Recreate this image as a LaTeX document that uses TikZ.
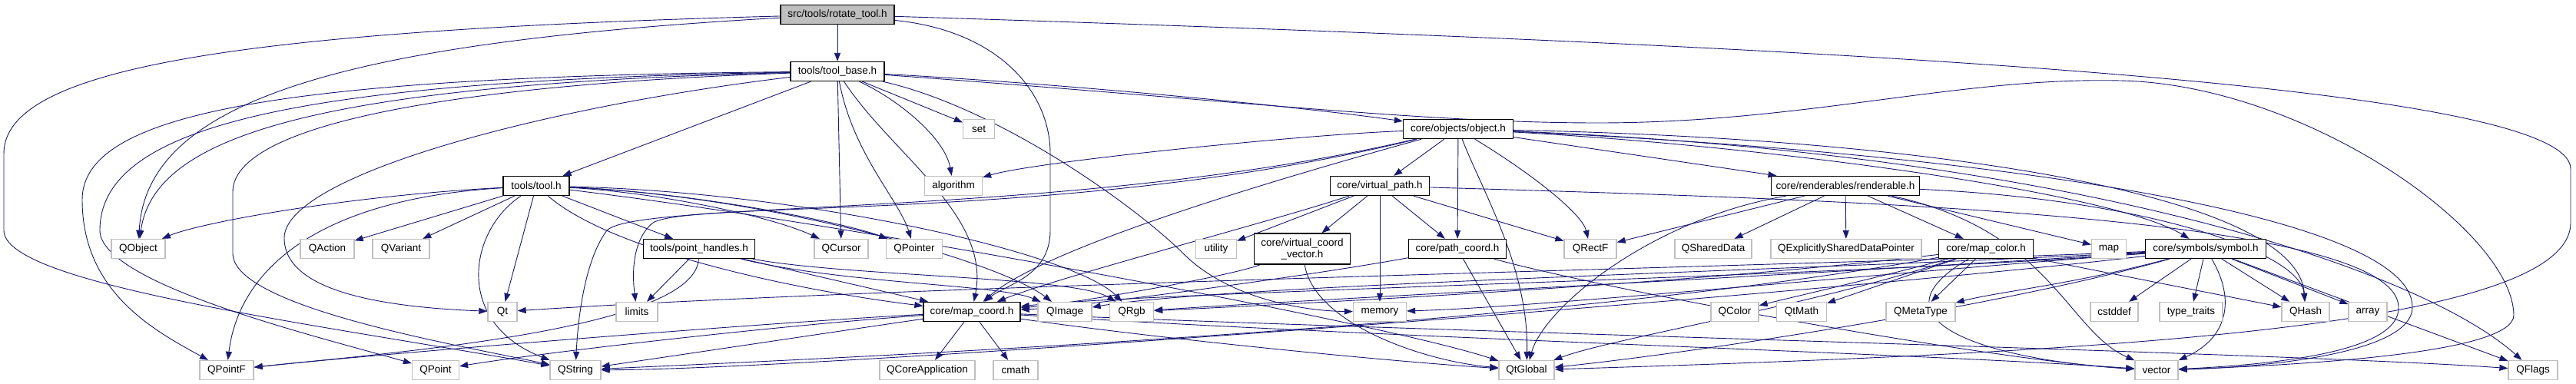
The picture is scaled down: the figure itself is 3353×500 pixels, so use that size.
\documentclass[tikz,border=0pt]{standalone}
\usepackage{fontspec}
\setmainfont{Liberation Sans}
\usepackage{xcolor}
\usepackage{tikz}
\usetikzlibrary{arrows.meta, backgrounds}

\definecolor{edgeblue}{RGB}{25,25,112}
\definecolor{sysgray}{RGB}{191,191,191}
\definecolor{rootgray}{RGB}{191,191,191}

\begin{document}
\begin{tikzpicture}[
    x=1pt, y=-1pt,
    file/.style={draw=black, fill=white, line width=1.3pt, minimum height=25pt, minimum width=#1, inner xsep=3pt, inner ysep=2pt, font=\fontsize{13.5}{15}\selectfont},
    file/.default=60,
    sys/.style={file=#1, draw=sysgray},
    sys/.default=40,
    root/.style={file=#1, fill=rootgray},
    dep/.style={-{Triangle[length=11pt,width=8pt]}, edgeblue, line width=0.9pt}
]
\useasboundingbox (0,0) rectangle (3353,500);

% Project headers
\node[root=148] (rot) at (1090,19) {src/tools/rotate\_tool.h};
\node[file=122] (toolbase) at (1090,93) {tools/tool\_base.h};
\node[file=143] (object) at (1898,168) {core/objects/object.h};
\node[file=86] (toolh) at (698,242) {tools/tool.h};
\node[file=129] (vpath) at (1796,242) {core/virtual\_path.h};
\node[file=193] (renderable) at (2402,242) {core/renderables/renderable.h};
\node[file=145] (phandles) at (910,324) {tools/point\_handles.h};
\node[file=125, align=center, minimum height=40pt] (vcv) at (1695,324) {core/virtual\_coord\\\_vector.h};
\node[file=127] (pathcoord) at (1897,324) {core/path\_coord.h};
\node[file=123] (mapcolor) at (2585,324) {core/map\_color.h};
\node[file=157] (symbol) at (2871,324) {core/symbols/symbol.h};
\node[file=126] (mapcoord) at (1265,406) {core/map\_coord.h};

% System headers
\node[sys=41] (set) at (1274,168) {set};
\node[sys=75] (algorithm) at (1241,242) {algorithm};
\node[sys=70] (QObject) at (180,324) {QObject};
\node[sys=70] (QAction) at (426,324) {QAction};
\node[sys=74] (QVariant) at (522,324) {QVariant};
\node[sys=70] (QCursor) at (1095,324) {QCursor};
\node[sys=73] (QPointer) at (1190,324) {QPointer};
\node[sys=53] (utility) at (1583,324) {utility};
\node[sys=68] (QRectF) at (2070,324) {QRectF};
\node[sys=100] (QSharedData) at (2230,324) {QSharedData};
\node[sys=196] (QESDP) at (2403,324) {QExplicitlySharedDataPointer};
\node[sys=45] (map) at (2745,324) {map};
\node[sys=38] (Qt) at (654,406) {Qt};
\node[sys=54] (limits) at (829,406) {limits};
\node[sys=70] (QImage) at (1386,406) {QImage};
\node[sys=57] (QRgb) at (1473,406) {QRgb};
\node[sys=69] (memory) at (1796,406) {memory};
\node[sys=62] (QColor) at (2258,406) {QColor};
\node[sys=65] (QtMath) at (2345,406) {QtMath};
\node[sys=90] (QMetaType) at (2500,406) {QMetaType};
\node[sys=62] (cstddef) at (2752,406) {cstddef};
\node[sys=82] (typetraits) at (2852,406) {type\_traits};
\node[sys=62] (QHash) at (3001,406) {QHash};
\node[sys=50] (array) at (3082,406) {array};
\node[sys=70] (QPointF) at (295,482) {QPointF};
\node[sys=61] (QPoint) at (567,482) {QPoint};
\node[sys=66] (QString) at (749,482) {QString};
\node[sys=124] (QCoreApp) at (1207,482) {QCoreApplication};
\node[sys=58] (cmath) at (1322,482) {cmath};
\node[sys=72] (QtGlobal) at (1987,482) {QtGlobal};
\node[sys=56] (vector) at (2807,482) {vector};
\node[sys=64] (QFlags) at (3297,482) {QFlags};

\begin{scope}[on background layer]
% rotate_tool.h
\draw[dep] (rot) -- (toolbase);
\draw[dep] (rot) .. controls (450,55) and (190,130) .. (QObject);
\draw[dep] (rot) .. controls (300,40) and (5,90) .. (5,200) -- (5,300) .. controls (5,370) and (400,420) .. (QString);
\draw[dep] (rot) .. controls (1300,40) and (1367,120) .. (1367,200) -- (1367,300) .. controls (1367,360) and (1310,370) .. (mapcoord);
\draw[dep] (rot) .. controls (2400,60) and (3346,110) .. (3346,220) -- (3346,290) .. controls (3346,430) and (2700,460) .. (QtGlobal);

% tool_base.h
\draw[dep] (toolbase) -- (toolh); \draw[dep] (toolbase) -- (QCursor); \draw[dep] (toolbase) -- (set);
\draw[dep] (toolbase) .. controls (400,110) and (200,180) .. (QObject);
\draw[dep] (toolbase) .. controls (350,100) and (107,150) .. (107,260) .. controls (107,380) and (200,430) .. (QPointF);
\draw[dep] (toolbase) .. controls (400,105) and (130,160) .. (130,300) .. controls (130,370) and (420,440) .. (QPoint);
\draw[dep] (toolbase) .. controls (600,110) and (303,160) .. (303,250) -- (303,330) .. controls (303,400) and (600,450) .. (QString);
\draw[dep] (toolbase) .. controls (700,140) and (370,230) .. (370,310) .. controls (370,380) and (500,400) .. (Qt);
\draw[dep] (toolbase) .. controls (1110,200) and (1170,260) .. (QPointer);
\draw[dep] (toolbase) .. controls (1160,200) and (1290,280) .. (mapcoord);
\draw[dep] (toolbase) .. controls (1170,130) and (1230,180) .. (algorithm);
\draw[dep] (toolbase) .. controls (1300,140) and (1480,270) .. (1540,330) .. controls (1600,390) and (1700,405) .. (memory);
\draw[dep] (toolbase) .. controls (1400,110) and (1700,140) .. (object);
\draw[dep] (toolbase) .. controls (1600,130) and (1850,160) .. (2080,160) .. controls (2350,160) and (2550,100) .. (2760,105) .. controls (3000,110) and (3270,300) .. (3272,410) .. controls (3273,460) and (3000,475) .. (vector);

% tool.h
\draw[dep] (toolh) -- (QAction); \draw[dep] (toolh) -- (QVariant); \draw[dep] (toolh) -- (Qt); \draw[dep] (toolh) -- (phandles);
\draw[dep] (toolh) .. controls (450,255) and (260,290) .. (QObject);
\draw[dep] (toolh) .. controls (400,260) and (310,360) .. (QPointF);
\draw[dep] (toolh) .. controls (610,300) and (590,420) .. (QString);
\draw[dep] (toolh) .. controls (850,250) and (1000,280) .. (QCursor);
\draw[dep] (toolh) .. controls (900,250) and (1100,290) .. (QPointer);
\draw[dep] (toolh) .. controls (800,330) and (1050,380) .. (mapcoord);
\draw[dep] (toolh) .. controls (1000,255) and (1300,340) .. (QImage);
\draw[dep] (toolh) .. controls (1050,250) and (1400,330) .. (QRgb);
\draw[dep] (toolh) .. controls (1100,290) and (1800,420) .. (QtGlobal);

% point_handles.h
\draw[dep] (phandles) -- (limits); \draw[dep] (phandles) -- (mapcoord);
\draw[dep] (phandles) .. controls (905,430) and (500,460) .. (QPointF);
\draw[dep] (phandles) .. controls (1100,370) and (1300,370) .. (QImage);
\draw[dep] (phandles) .. controls (1100,360) and (1400,360) .. (QRgb);

% object.h
\draw[dep] (object) -- (vpath); \draw[dep] (object) -- (pathcoord); \draw[dep] (object) -- (renderable);
\draw[dep] (object) .. controls (2000,230) and (2060,280) .. (QRectF);
\draw[dep] (object) .. controls (1930,250) and (1990,350) .. (QtGlobal);
\draw[dep] (object) .. controls (1700,175) and (1350,210) .. (algorithm);
\draw[dep] (object) .. controls (1400,290) and (900,260) .. (850,290) .. controls (825,310) and (822,350) .. (limits);
\draw[dep] (object) .. controls (1400,285) and (830,260) .. (790,300) .. controls (760,340) and (752,420) .. (QString);
\draw[dep] (object) .. controls (1600,250) and (1350,330) .. (mapcoord);
\draw[dep] (object) .. controls (2300,190) and (2750,250) .. (symbol);
\draw[dep] (object) .. controls (2500,180) and (2990,250) .. (QHash);
\draw[dep] (object) .. controls (2600,200) and (3140,280) .. (3140,400) .. controls (3140,460) and (2950,478) .. (vector);
\draw[dep] (object) .. controls (2700,200) and (3150,350) .. (QFlags);

% virtual_path.h
\draw[dep] (vpath) -- (utility); \draw[dep] (vpath) -- (vcv); \draw[dep] (vpath) -- (memory);
\draw[dep] (vpath) -- (pathcoord); \draw[dep] (vpath) -- (QRectF);
\draw[dep] (vpath) .. controls (1650,290) and (1380,360) .. (mapcoord);
\draw[dep] (vpath) .. controls (2400,260) and (3120,280) .. (3122,400) .. controls (3124,460) and (2950,475) .. (vector);

% virtual_coord_vector.h, path_coord.h
\draw[dep] (vcv) .. controls (1600,360) and (1400,395) .. (mapcoord);
\draw[dep] (vcv) .. controls (1710,420) and (1850,470) .. (QtGlobal);
\draw[dep] (pathcoord) .. controls (1700,360) and (1400,400) .. (mapcoord);
\draw[dep] (pathcoord) -- (QtGlobal);
\draw[dep] (pathcoord) .. controls (2100,380) and (2600,470) .. (vector);

% renderable.h
\draw[dep] (renderable) -- (QRectF); \draw[dep] (renderable) -- (QSharedData); \draw[dep] (renderable) -- (QESDP);
\draw[dep] (renderable) -- (mapcolor); \draw[dep] (renderable) -- (map);
\draw[dep] (renderable) .. controls (2150,285) and (2010,400) .. (QtGlobal);
\draw[dep] (renderable) .. controls (2670,300) and (2690,430) .. (vector);
\draw[dep] (renderable) .. controls (2800,260) and (2995,330) .. (QHash);

% map_color.h
\draw[dep] (mapcolor) -- (QMetaType); \draw[dep] (mapcolor) -- (QtMath); \draw[dep] (mapcolor) -- (QHash);
\draw[dep] (mapcolor) .. controls (2450,360) and (2320,390) .. (QColor);
\draw[dep] (mapcolor) .. controls (2420,420) and (2600,470) .. (vector);
\draw[dep] (mapcolor) .. controls (2350,400) and (2100,440) .. (QtGlobal);
\draw[dep] (mapcolor) .. controls (2200,370) and (1700,395) .. (QRgb);
\draw[dep] (mapcolor) .. controls (2000,430) and (1000,470) .. (QString);

% symbol.h
\draw[dep] (symbol) -- (cstddef); \draw[dep] (symbol) -- (typetraits); \draw[dep] (symbol) -- (array);
\draw[dep] (symbol) -- (QHash); \draw[dep] (symbol) -- (QFlags);
\draw[dep] (symbol) .. controls (2700,370) and (2600,380) .. (QMetaType);
\draw[dep] (symbol) .. controls (2910,390) and (2900,440) .. (vector);
\draw[dep] (symbol) .. controls (2600,400) and (2200,460) .. (QtGlobal);
\draw[dep] (symbol) .. controls (2400,360) and (1500,380) .. (mapcoord);
\draw[dep] (symbol) .. controls (2400,350) and (1600,370) .. (QImage);
\draw[dep] (symbol) .. controls (2400,355) and (1700,390) .. (QRgb);
\draw[dep] (symbol) .. controls (2400,360) and (2000,400) .. (memory);
\draw[dep] (symbol) .. controls (2400,345) and (1200,370) .. (Qt);
\draw[dep] (symbol) .. controls (2400,380) and (1100,480) .. (QString);

% map_coord.h
\draw[dep] (mapcoord) -- (QCoreApp); \draw[dep] (mapcoord) -- (cmath);
\draw[dep] (mapcoord) .. controls (1500,440) and (1800,470) .. (QtGlobal);
\draw[dep] (mapcoord) .. controls (1800,440) and (2500,460) .. (vector);
\draw[dep] (mapcoord) .. controls (1800,430) and (3000,460) .. (QFlags);
\draw[dep] (mapcoord) .. controls (1000,420) and (500,460) .. (QPointF);
\draw[dep] (mapcoord) .. controls (1000,425) and (700,460) .. (QPoint);
\draw[dep] (mapcoord) .. controls (1100,430) and (900,460) .. (QString);
\end{scope}

\end{tikzpicture}
\end{document}
